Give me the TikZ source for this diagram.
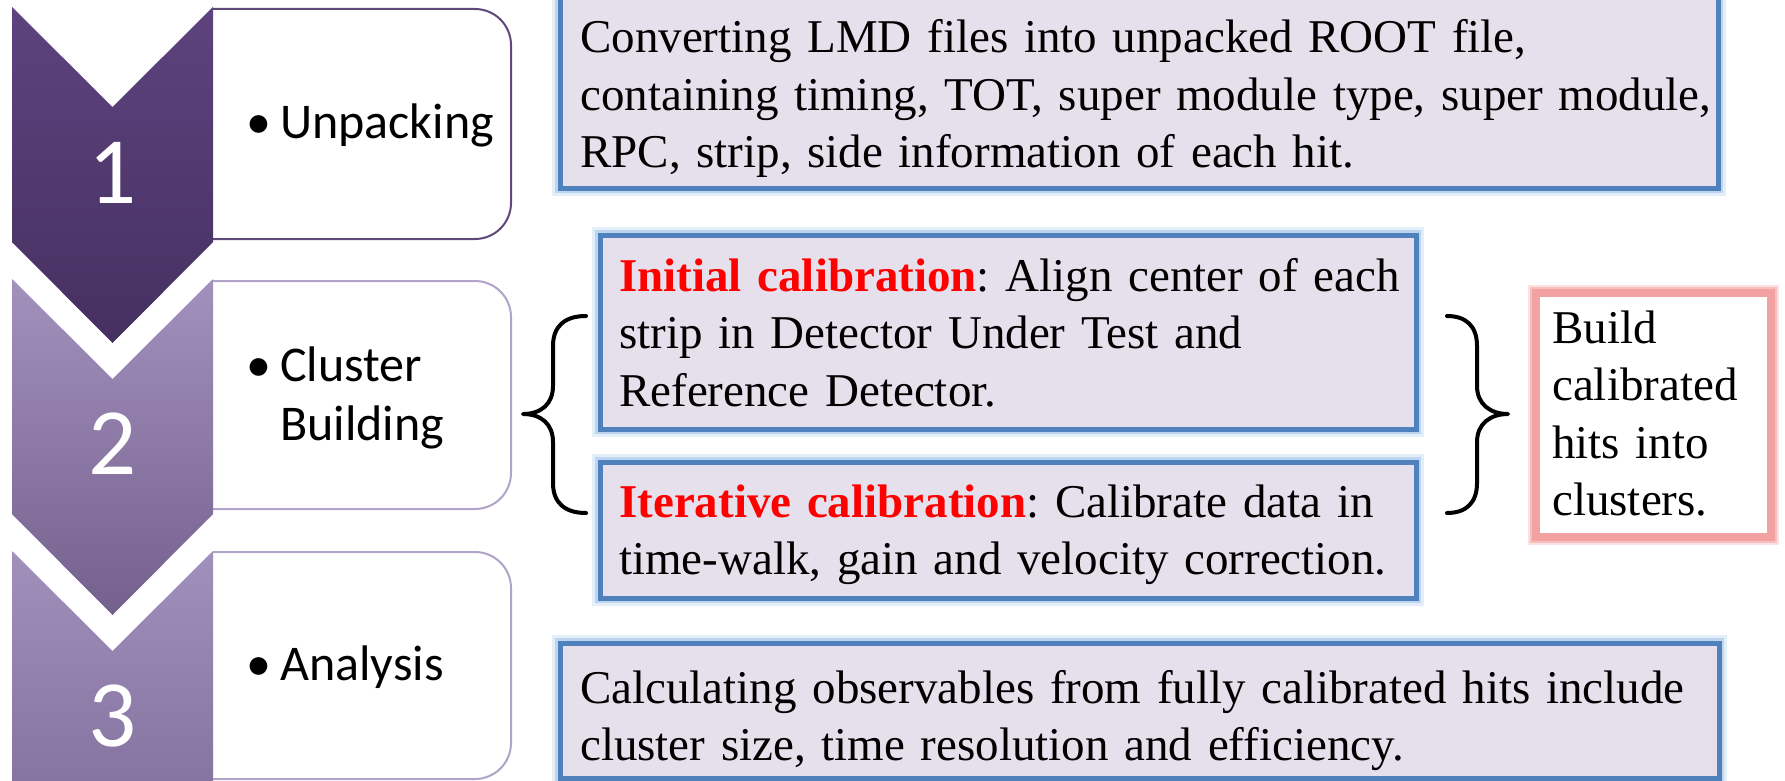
\documentclass[tikz,border=0pt]{standalone}
\usepackage{fontspec}
\setmainfont{Liberation Serif}
\newfontfamily\calibri{Carlito}
\definecolor{chevAtop}{HTML}{5E437F}
\definecolor{chevAbot}{HTML}{453060}
\definecolor{chevBtop}{HTML}{A391BD}
\definecolor{chevBbot}{HTML}{74608D}
\definecolor{chevCtop}{HTML}{A190BC}
\definecolor{chevCbot}{HTML}{7A6794}
\definecolor{darkframe}{HTML}{5F497A}
\definecolor{lightframe}{HTML}{B2A3C8}
\definecolor{blueedge}{HTML}{4F81BD}
\definecolor{blueglowA}{HTML}{E3EEF9}
\definecolor{blueglowB}{HTML}{BCD6F1}
\definecolor{boxfill}{HTML}{E5E0EC}
\definecolor{rededge}{HTML}{F2A2A2}
\definecolor{redglowA}{HTML}{FBE1E1}
\definecolor{redglowB}{HTML}{F6C0C0}
\definecolor{titlered}{HTML}{FF0000}
\tikzset{
  bluebox/.style={rectangle, inner sep=0pt, fill=boxfill, draw=blueedge, line width=5pt,
    preaction={draw=blueglowA, line width=16pt},
    preaction={draw=blueglowB, line width=10pt}},
  redbox/.style={rectangle, inner sep=0pt, fill=white, draw=rededge, line width=8pt,
    preaction={draw=redglowA, line width=16pt},
    preaction={draw=redglowB, line width=12pt}},
  serifbody/.style={inner sep=0pt, anchor=base west, text width=1200pt, align=left,
    font={\fontsize{47}{57.5}\selectfont\frenchspacing}},
  sansbody/.style={inner sep=0pt, anchor=base west, text width=400pt, align=left,
    font={\calibri\fontsize{50}{59}\selectfont}},
  stepnum/.style={inner sep=0pt, anchor=center, text=white,
    font={\calibri\fontsize{95}{100}\selectfont}},
  bracestroke/.style={draw=black, line width=4pt, line cap=round, line join=round},
}
\newcommand{\bul}{\makebox[34pt][l]{\textbullet}}
\begin{document}
\begin{tikzpicture}[x=1pt, y=-1pt]
\useasboundingbox (0,0) rectangle (1785,781);
\clip (0,0) rectangle (1785,781);
\fill[white] (0,0) rectangle (1785,781);

% rounded panels behind the chevrons
\draw[darkframe, line width=2pt, rounded corners=36pt] (213,9) -- (511,9) -- (511,239) -- (213,239);
\draw[lightframe, line width=2pt, rounded corners=36pt] (213,281) -- (511,281) -- (511,509) -- (213,509);
\draw[lightframe, line width=2pt, rounded corners=36pt] (213,552) -- (511,552) -- (511,779) -- (213,779);

% chevrons
\path[top color=chevAtop, bottom color=chevAbot]
  (12,7) -- (112.5,107) -- (213,7) -- (213,242) -- (112.5,343) -- (12,242) -- cycle;
\path[top color=chevBtop, bottom color=chevBbot]
  (12,279) -- (112.5,379) -- (213,279) -- (213,514) -- (112.5,615) -- (12,514) -- cycle;
\path[top color=chevCtop, bottom color=chevCbot]
  (12,551) -- (112.5,651) -- (213,551) -- (213,786) -- (112.5,887) -- (12,786) -- cycle;

\node[stepnum] (n1) at (113,173) {1};
\node[stepnum] (n2) at (113,444) {2};
\node[stepnum] (n3) at (113,716) {3};

\node[sansbody] (s1) at (246,139) {\bul Unpacking};
\node[sansbody] (s2) at (246,381) {\bul Cluster\\\hspace*{34pt}Building};
\node[sansbody] (s3) at (246,680) {\bul Analysis};

% blue boxes
\node[bluebox, minimum width=1158pt, minimum height=208pt] (topbox) at (1139,84) {};
\node[bluebox, minimum width=816pt, minimum height=194pt] (initbox) at (1008,332) {};
\node[bluebox, minimum width=816pt, minimum height=136pt] (iterbox) at (1008,530) {};
\node[bluebox, minimum width=1159pt, minimum height=135pt] (botbox) at (1139.5,710.5) {};
\node[redbox, minimum width=235pt, minimum height=244pt] (buildbox) at (1653.5,415) {};

\node[serifbody] (toptxt) at (580,53) {Converting LMD files into unpacked ROOT file,\\containing timing, TOT, super module type, super module,\\RPC, strip, side information of each hit.};
\node[serifbody] (inittxt) at (619,291) {\textcolor{titlered}{\textbf{Initial calibration}}: Align center of each\\strip in Detector Under Test and\\Reference Detector.};
\node[serifbody] (itertxt) at (619,517) {\textcolor{titlered}{\textbf{Iterative calibration}}: Calibrate data in\\time-walk, gain and velocity correction.};
\node[serifbody] (bottxt) at (580,703) {Calculating observables from fully calibrated hits include\\cluster size, time resolution and efficiency.};
\node[serifbody, text width=220pt] (buildtxt) at (1552,343) {Build\\calibrated\\hits into\\clusters.};

% braces
\draw[bracestroke] (586,316) .. controls (565,316) and (553,326) .. (553,346) -- (553,386)
  .. controls (553,404) and (541,414) .. (523,414)
  .. controls (541,414) and (553,424) .. (553,442) -- (553,483)
  .. controls (553,503) and (565,513) .. (586,513);
\draw[bracestroke] (1447,316) .. controls (1466,316) and (1477,326) .. (1477,346) -- (1477,386)
  .. controls (1477,404) and (1490,414) .. (1508,414)
  .. controls (1490,414) and (1477,424) .. (1477,442) -- (1477,483)
  .. controls (1477,503) and (1466,513) .. (1447,513);
\end{tikzpicture}
\end{document}
